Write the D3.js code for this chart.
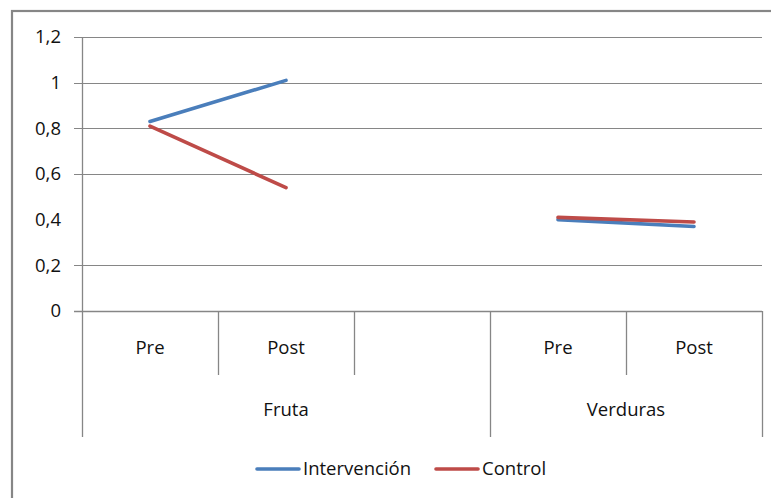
<!DOCTYPE html>
<html>
<head>
<meta charset="utf-8">
<script src="https://cdn.jsdelivr.net/npm/d3@7"></script>
<style>
  html, body { margin: 0; padding: 0; background: #fff; }
  svg { display: block; }
  text { font-family: "Open Sans", sans-serif; fill: #111; }
</style>
</head>
<body>
<svg id="chart" width="771" height="498"></svg>
<script>
// Category slots along the x axis: inner labels and their outer groups
const subLabels = ["Pre", "Post", "", "Pre", "Post"];
const groups = [
  { name: "Fruta", start: 0, end: 3 },
  { name: "Verduras", start: 3, end: 5 }
];

// Series values per slot (null = empty slot, line breaks there)
const intervencion = [0.83, 1.01, null, 0.40, 0.37];
const control = [0.81, 0.54, null, 0.41, 0.39];

const seriesNames = ["Intervención", "Control"];
const seriesColors = ["#4A7EBB", "#BE4B48"];

// Value axis
const yTicks = [0, 0.2, 0.4, 0.6, 0.8, 1, 1.2];
const gridValues = [0.2, 0.6, 0.8, 1, 1.2];

const svg = d3.select("#chart");
const gridColor = "#868686";

const plot = { left: 82, right: 762, top: 37, bottom: 311 };
const subRowBottom = 375;
const groupRowBottom = 437;

const x = d3.scaleBand()
  .domain(d3.range(subLabels.length))
  .range([plot.left, plot.right])
  .padding(0);

const y = d3.scaleLinear()
  .domain([0, 1.2])
  .range([plot.bottom, plot.top]);

const fmt = v => d3.format("")(+v.toFixed(1)).replace(".", ",");

// Outer chart frame
svg.append("rect")
  .attr("x", 12).attr("y", 11)
  .attr("width", 800).attr("height", 520)
  .attr("fill", "none")
  .attr("stroke", gridColor)
  .attr("stroke-width", 2.2);

// Horizontal gridlines
svg.append("g").selectAll("line")
  .data(gridValues)
  .join("line")
  .attr("x1", plot.left - 8).attr("x2", plot.right)
  .attr("y1", d => Math.round(y(d)) + 0.5)
  .attr("y2", d => Math.round(y(d)) + 0.5)
  .attr("stroke", gridColor)
  .attr("stroke-width", 1);

// Value axis with tick labels
const yAxis = d3.axisLeft(y)
  .tickValues(yTicks)
  .tickFormat(fmt)
  .tickSize(0)
  .tickPadding(21);
const yAxisG = svg.append("g")
  .attr("transform", `translate(${plot.left},0)`)
  .call(yAxis);
yAxisG.select(".domain").remove();
yAxisG.selectAll("text")
  .style("font-family", "'Open Sans', sans-serif")
  .style("font-size", "18.5px")
  .attr("fill", "#111");

// Baseline at zero
svg.append("line")
  .attr("x1", plot.left - 8).attr("x2", plot.right)
  .attr("y1", Math.round(y(0)) + 0.5).attr("y2", Math.round(y(0)) + 0.5)
  .attr("stroke", gridColor).attr("stroke-width", 1.3);

// Vertical axis line (runs down through the category rows)
svg.append("line")
  .attr("x1", plot.left + 0.5).attr("x2", plot.left + 0.5)
  .attr("y1", plot.top).attr("y2", groupRowBottom)
  .attr("stroke", gridColor).attr("stroke-width", 1.3);

// Category dividers: inner ones stop at the sub-label row, group edges run full depth
const groupEdges = new Set(groups.map(g => g.end));
const dividers = d3.range(1, subLabels.length + 1);
svg.append("g").selectAll("line")
  .data(dividers)
  .join("line")
  .attr("x1", i => Math.round(x(i - 1) + x.bandwidth()) + 0.5)
  .attr("x2", i => Math.round(x(i - 1) + x.bandwidth()) + 0.5)
  .attr("y1", plot.bottom)
  .attr("y2", i => groupEdges.has(i) ? groupRowBottom : subRowBottom)
  .attr("stroke", gridColor)
  .attr("stroke-width", 1.3);

// Inner category labels
svg.append("g").selectAll("text")
  .data(subLabels)
  .join("text")
  .attr("x", (d, i) => x(i) + x.bandwidth() / 2)
  .attr("y", 348)
  .attr("dy", "0.35em")
  .attr("text-anchor", "middle")
  .style("font-size", "18.5px")
  .text(d => d);

// Group labels
svg.append("g").selectAll("text")
  .data(groups)
  .join("text")
  .attr("x", g => (x(g.start) + x(g.end - 1) + x.bandwidth()) / 2)
  .attr("y", 410)
  .attr("dy", "0.35em")
  .attr("text-anchor", "middle")
  .style("font-size", "18.5px")
  .text(g => g.name);

// Series lines
const line = d3.line()
  .defined(d => d != null)
  .x((d, i) => x(i) + x.bandwidth() / 2)
  .y(d => y(d));

const series = [intervencion, control];
svg.append("g").selectAll("path")
  .data(series)
  .join("path")
  .attr("d", d => line(d))
  .attr("fill", "none")
  .attr("stroke", (d, i) => seriesColors[i])
  .attr("stroke-width", 3.6)
  .attr("stroke-linecap", "round")
  .attr("stroke-linejoin", "round");

// Legend
const legendItems = [
  { name: seriesNames[0], color: seriesColors[0], x: 257 },
  { name: seriesNames[1], color: seriesColors[1], x: 436 }
];
const lg = svg.append("g").selectAll("g")
  .data(legendItems)
  .join("g")
  .attr("transform", d => `translate(${d.x},469)`);
lg.append("line")
  .attr("x1", 0).attr("x2", 42)
  .attr("y1", 0).attr("y2", 0)
  .attr("stroke", d => d.color)
  .attr("stroke-width", 3.6)
  .attr("stroke-linecap", "round");
lg.append("text")
  .attr("x", 46)
  .attr("y", 0)
  .attr("dy", "0.32em")
  .style("font-size", "18.5px")
  .text(d => d.name);
</script>
</body>
</html>
